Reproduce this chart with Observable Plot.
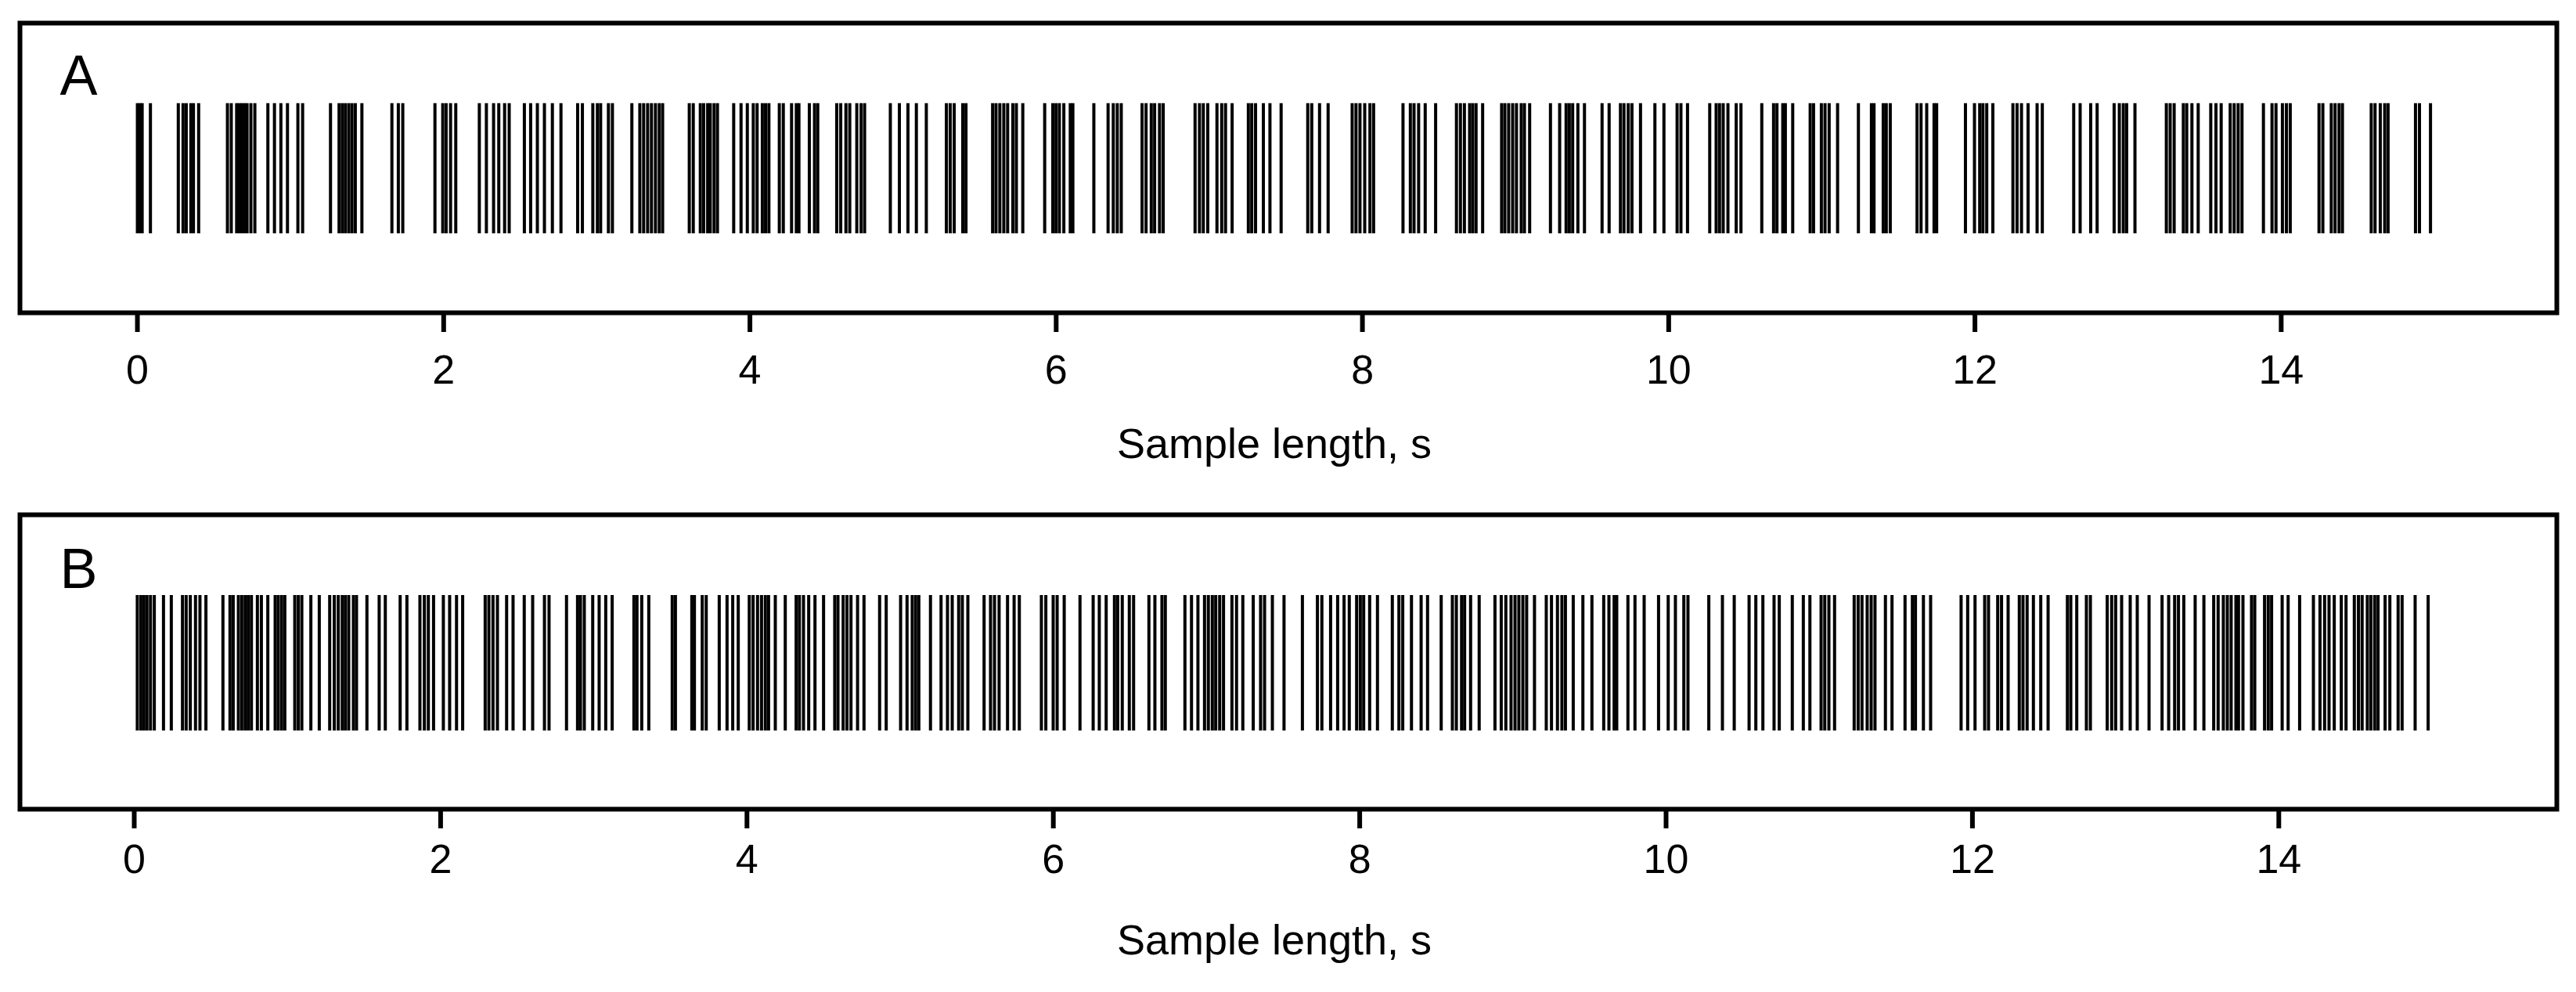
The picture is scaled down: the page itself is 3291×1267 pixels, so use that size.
<!DOCTYPE html>
<html><head><meta charset="utf-8">
<script src="https://cdn.jsdelivr.net/npm/d3@7"></script>
<script src="https://cdn.jsdelivr.net/npm/@observablehq/plot@0.6"></script>
<style>body{margin:0;background:#fff} #chart svg{display:block}</style>
</head><body><div id="chart"></div>
<script>
const spikesA = [0.000,0.017,0.031,0.085,0.267,0.298,0.319,0.349,0.366,0.400,0.588,0.613,0.648,0.665,0.682,0.699,0.716,0.741,0.767,0.852,0.895,0.937,0.980,1.048,1.079,1.261,1.317,1.338,1.358,1.380,1.401,1.423,1.466,1.662,1.704,1.733,1.943,1.994,2.016,2.045,2.079,2.233,2.279,2.326,2.360,
2.398,2.428,2.527,2.568,2.612,2.658,2.710,2.766,2.875,2.906,2.974,3.004,3.025,3.076,3.102,3.229,3.281,3.306,3.332,3.357,3.383,3.408,3.430,3.604,3.630,3.676,3.698,3.724,3.741,3.766,3.788,3.894,3.942,3.983,4.022,4.047,4.081,4.102,4.124,4.192,4.218,4.272,4.303,4.320,4.388,4.422,4.443,4.567,4.593,4.627,4.652,4.698,4.726,4.749,4.917,
4.976,5.032,5.087,5.152,5.283,5.308,5.334,5.390,5.411,5.585,5.607,5.632,5.658,5.683,5.717,5.740,5.782,5.925,5.978,5.999,6.021,6.050,6.092,6.109,6.246,6.339,6.373,6.399,6.425,6.561,6.587,6.621,6.643,6.675,6.699,6.907,6.936,6.961,6.990,7.050,7.081,7.106,7.149,7.255,7.277,7.302,7.353,7.396,
7.469,7.643,7.669,7.720,7.776,7.933,7.958,7.984,8.015,8.049,8.073,8.265,8.313,8.337,8.367,8.410,8.478,8.614,8.640,8.666,8.700,8.720,8.742,8.785,8.909,8.930,8.955,8.981,9.006,9.037,9.058,9.092,9.228,9.288,9.330,9.351,9.373,9.407,9.450,9.565,9.611,9.685,9.708,9.736,9.760,9.816,9.910,
9.969,10.055,10.080,10.123,10.268,10.310,10.332,10.356,10.387,10.441,10.472,10.608,10.685,10.707,10.745,10.762,10.810,10.924,10.946,10.997,11.021,11.048,11.103,11.239,11.324,11.341,11.401,11.421,11.447,11.622,11.648,11.685,11.733,11.750,11.938,11.997,12.031,12.052,12.077,12.117,12.248,12.275,12.304,12.347,12.406,12.440,
12.645,12.687,12.756,12.798,12.909,12.943,12.969,12.991,13.045,13.250,13.275,13.301,13.361,13.383,13.417,13.458,13.540,13.574,13.608,13.667,13.693,13.719,13.744,13.884,13.940,13.966,14.008,14.034,14.059,14.247,14.272,14.327,14.352,14.378,14.400,14.588,14.613,14.647,14.676,14.698,14.877,14.903,14.975];

const spikesB = [0.020,0.043,0.063,0.083,0.106,0.131,0.191,0.242,0.315,0.339,0.366,0.400,0.429,0.468,0.579,0.625,0.646,0.680,0.702,0.724,0.744,0.765,0.804,0.830,0.872,0.920,0.940,0.962,0.983,1.048,1.071,1.094,1.153,1.208,1.276,1.306,1.332,1.358,1.378,1.400,1.431,1.451,1.519,1.599,1.639,1.736,1.780,1.865,1.894,1.920,1.954,2.018,2.059,2.104,2.144,2.291,2.315,2.342,2.371,2.431,
2.473,2.546,2.601,2.678,2.708,2.822,2.894,2.913,2.938,2.993,3.035,3.078,3.120,3.262,3.282,3.313,3.359,3.512,3.533,3.640,3.657,3.708,3.734,3.819,3.870,3.907,3.943,4.015,4.040,4.069,4.095,4.120,4.141,4.185,4.250,4.321,4.342,4.369,4.403,4.444,4.500,4.573,4.594,4.628,4.653,4.679,4.722,4.764,4.866,4.909,
5.003,5.045,5.079,5.101,5.122,5.198,5.267,5.309,5.340,5.382,5.406,5.442,5.548,5.590,5.616,5.646,5.701,5.744,5.778,5.922,5.951,5.999,6.025,6.071,6.174,6.260,6.300,6.345,6.399,6.420,6.450,6.496,6.524,6.624,6.663,6.709,6.731,6.859,6.902,6.944,6.987,7.012,7.038,7.060,7.086,7.111,7.166,7.196,7.237,7.305,7.353,7.379,7.430,
7.506,7.626,7.724,7.753,7.810,7.856,7.898,7.932,7.980,8.004,8.026,8.065,8.116,8.213,8.256,8.281,8.338,8.401,8.443,8.532,8.605,8.631,8.665,8.685,8.724,8.780,8.883,8.924,8.954,8.988,9.014,9.039,9.065,9.090,9.141,9.218,9.252,9.291,9.320,9.343,9.394,9.457,9.516,9.593,9.627,9.661,9.678,9.751,9.797,9.857,9.951,
10.014,10.061,10.116,10.143,10.279,10.368,10.445,10.542,10.586,10.632,10.705,10.739,10.824,10.896,10.939,11.012,11.036,11.063,11.100,11.228,11.254,11.279,11.313,11.339,11.364,11.432,11.475,11.560,11.608,11.628,11.680,11.727,11.926,11.969,12.017,12.080,12.105,12.165,12.190,12.233,12.306,12.330,12.357,12.398,12.446,
12.494,12.620,12.642,12.681,12.744,12.770,12.880,12.909,12.935,12.974,13.030,13.076,13.153,13.238,13.281,13.320,13.345,13.380,13.454,13.511,13.575,13.604,13.638,13.664,13.689,13.720,13.737,13.766,13.822,13.843,13.907,13.931,13.953,14.022,14.061,14.136,14.226,14.269,14.299,14.328,14.362,14.408,14.439,14.493,14.520,14.544,14.578,14.601,14.626,14.648,14.694,14.725,14.779,14.805,14.890,14.975];

const tickValues = [0, 2, 4, 6, 8, 10, 12, 14];
const panelLabels = ["A", "B"];
const axisLabel = "Sample length, s";

const font = "'Liberation Sans', Arial, Helvetica, sans-serif";

function panel(spikes, label, o) {
  return Plot.plot({
    width: 3291, height: o.height,
    marginLeft: 25, marginRight: 25, marginTop: o.top, marginBottom: o.bottom,
    x: {domain: o.domain},
    y: {domain: [0, 1], axis: null},
    style: {fontFamily: font, fontSize: "52px", color: "black", background: "white", overflow: "visible"},
    marks: [
      Plot.ruleX(spikes, {x: d => d, y1: o.y1, y2: o.y2, stroke: "black", strokeWidth: 4}),
      Plot.frame({stroke: "black", strokeWidth: 6}),
      Plot.axisX({ticks: tickValues, tickSize: 25, tickPadding: o.tickPad, strokeWidth: 6, tickFormat: d => String(d), fontSize: 52, label: null}),
      Plot.text([label], {text: d => d, frameAnchor: "top-left", dx: 51, dy: o.labelDy, textAnchor: "start", fontSize: 72}),
      Plot.text([axisLabel], {text: d => d, frameAnchor: "bottom", dx: -18, dy: 185, fontSize: 54})
    ]
  });
}

const chart = document.getElementById("chart");
chart.appendChild(panel(spikesA, panelLabels[0], {height: 620, top: 29, bottom: 221, domain: [-0.767, 15.80], y1: 0.273, y2: 0.722, labelDy: 40, tickPad: 29}));
chart.appendChild(panel(spikesB, panelLabels[1], {height: 647, top: 37, bottom: 234, domain: [-0.746, 15.815], y1: 0.266, y2: 0.726, labelDy: 42, tickPad: 20}));
</script></body></html>
